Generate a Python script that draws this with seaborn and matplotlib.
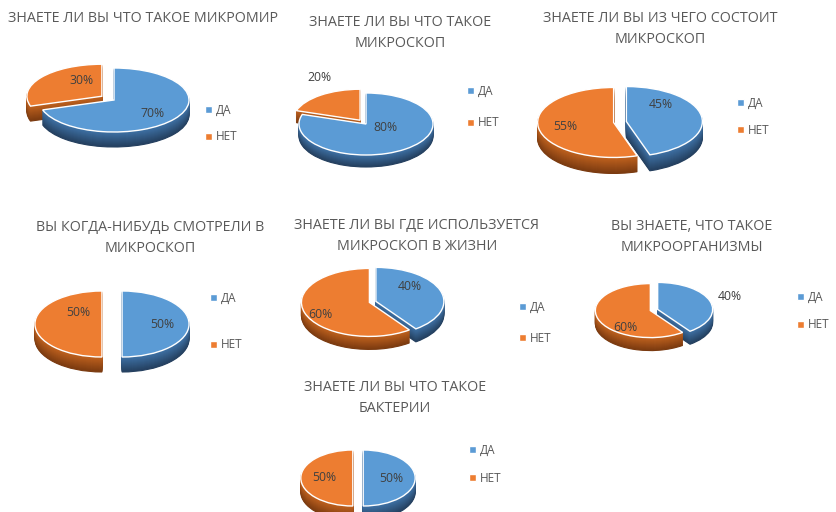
import matplotlib
matplotlib.use("Agg")
import matplotlib.pyplot as plt
import matplotlib.colors as mcolors
import numpy as np
import seaborn as sns

W, H = 836, 512

# ---------------- data ----------------
titles = [
    "ЗНАЕТЕ ЛИ ВЫ ЧТО ТАКОЕ МИКРОМИР",
    "ЗНАЕТЕ ЛИ ВЫ ЧТО ТАКОЕ\nМИКРОСКОП",
    "ЗНАЕТЕ ЛИ ВЫ ИЗ ЧЕГО СОСТОИТ\nМИКРОСКОП",
    "ВЫ КОГДА-НИБУДЬ СМОТРЕЛИ В\nМИКРОСКОП",
    "ЗНАЕТЕ ЛИ ВЫ ГДЕ ИСПОЛЬЗУЕТСЯ\nМИКРОСКОП В ЖИЗНИ",
    "ВЫ ЗНАЕТЕ, ЧТО ТАКОЕ\nМИКРООРГАНИЗМЫ",
    "ЗНАЕТЕ ЛИ ВЫ ЧТО ТАКОЕ\nБАКТЕРИИ",
]
categories = ["ДА", "НЕТ"]
yes_pct = [70, 80, 45, 50, 40, 40, 50]
no_pct = [30, 20, 55, 50, 60, 60, 50]

# ---------------- styles / layout (pixels) ----------------
top_colors = ["#5b9bd5", "#ed7d31"]
side_top = ["#3f72a6", "#c0621f"]
side_bot = ["#243f5e", "#7a3a10"]
text_gray = "#595959"
label_gray = "#404040"

# ld: label distance (radius units), la: label angle shift (degrees)
layout = [
    dict(cx=114, cy=100, rx=75, ry=32, t=15, ex=(0.0, 0.2), tx=143, ty=19,
         lx=205, ly=(110, 137), ld=(0.66, 0.57), la=(-2, -26)),
    dict(cx=366, cy=124, rx=67, ry=31, t=12, ex=(0.0, 0.15), tx=400, ty=33,
         lx=467, ly=(91, 123), ld=(0.3, 1.5), la=(35, -12)),
    dict(cx=620, cy=122, rx=76, ry=35, t=16, ex=(0.085, 0.085), tx=660, ty=29,
         lx=737, ly=(103, 130), ld=(0.66, 0.65), la=(38, 0)),
    dict(cx=112, cy=324, rx=67, ry=33, t=15, ex=(0.15, 0.15), tx=150, ty=238,
         lx=210, ly=(298, 345), ld=(0.6, 0.5), la=(0, -45)),
    dict(cx=372, cy=302, rx=68, ry=34, t=13, ex=(0.06, 0.04), tx=417, ty=236,
         lx=519, ly=(307, 338), ld=(0.67, 0.8), la=(23, 8)),
    dict(cx=654, cy=310, rx=55, ry=27, t=13, ex=(0.07, 0.07), tx=692, ty=237,
         lx=797, ly=(297, 325), ld=(1.4, 0.76), la=(2, 36)),
    dict(cx=358, cy=478, rx=52, ry=28, t=14, ex=(0.1, 0.1), tx=395, ty=398,
         lx=469, ly=(450, 478), ld=(0.55, 0.55), la=(0, 0)),
]

sns.set_theme(style="white")
plt.rcParams["font.family"] = ["Open Sans", "DejaVu Sans"]

fig = plt.figure(figsize=(W / 100, H / 100), dpi=100)
fig.patch.set_facecolor("white")


def mix(c1, c2, f):
    a = np.array(mcolors.to_rgb(c1))
    b = np.array(mcolors.to_rgb(c2))
    return tuple(a * (1 - f) + b * f)


for i, L in enumerate(layout):
    vals = [yes_pct[i], no_pct[i]]
    cx, cy, rx, ry, t = L["cx"], L["cy"], L["rx"], L["ry"], L["t"]
    x0, x1 = cx - 1.6 * rx, cx + 1.6 * rx
    ytop, ybot = cy - 1.8 * ry, cy + 1.8 * ry + t
    ax = fig.add_axes([x0 / W, 1 - ybot / H, (x1 - x0) / W, (ybot - ytop) / H])
    ax.patch.set_alpha(0)
    n = int(t)
    step = (t / ry) / n
    for k in range(n, 0, -1):
        f = k / n
        cols = [mix(side_top[j], side_bot[j], f) for j in range(2)]
        ws, _ = ax.pie(vals, explode=L["ex"], startangle=90, counterclock=False,
                       colors=cols, radius=1, center=(0, -k * step),
                       wedgeprops=dict(linewidth=0.8))
        for w in ws:
            w.set_edgecolor(w.get_facecolor())
    wedges, _ = ax.pie(vals, explode=L["ex"], startangle=90, counterclock=False,
                       colors=top_colors, radius=1, center=(0, 0),
                       wedgeprops=dict(linewidth=1.0, edgecolor="white"))
    for j, w in enumerate(wedges):
        mid = np.deg2rad((w.theta1 + w.theta2) / 2 + L["la"][j])
        c = w.center
        d = L["ld"][j]
        ax.text(c[0] + d * np.cos(mid), c[1] + d * np.sin(mid), f"{vals[j]}%",
                ha="center", va="center", fontsize=8.8, color=label_gray)
    ax.set_aspect("auto")
    ax.set_xlim(-1.6, 1.6)
    ax.set_ylim(-(1.8 + t / ry), 1.8)
    ax.axis("off")

    fig.text(L["tx"] / W, 1 - L["ty"] / H, titles[i], ha="center", va="center",
             fontsize=10.3, color=text_gray, linespacing=1.55)
    for j in range(2):
        fig.legend(handles=[wedges[j]], labels=[categories[j]], loc="center left",
                   bbox_to_anchor=(L["lx"] / W, 1 - L["ly"][j] / H), frameon=False,
                   borderpad=0, borderaxespad=0, handlelength=0.6, handleheight=0.6,
                   handletextpad=0.35, fontsize=8.5, labelcolor=text_gray)

fig.savefig("out.png", dpi=100, facecolor="white")
